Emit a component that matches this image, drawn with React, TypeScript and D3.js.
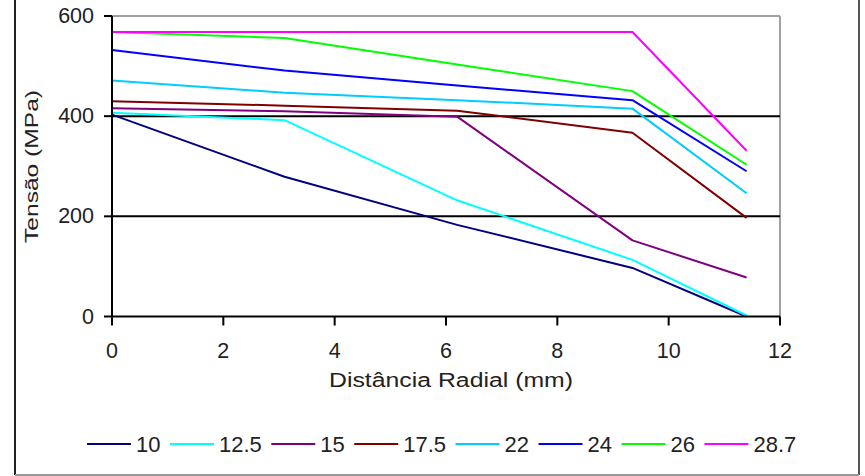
import React from "react";
import * as d3 from "d3";

const seriesNames = ["10", "12.5", "15", "17.5", "22", "24", "26", "28.7"];
const seriesColors = ["#000080", "#00FFFF", "#800080", "#800000", "#00CCFF", "#0000FF", "#00FF00", "#FF00FF"];
const xValues = [0, 3.1, 6.2, 9.35, 11.4];
const s10 = [403, 279, 183, 97, 0];
const s12_5 = [407, 392, 232, 113, 2];
const s15 = [416, 410, 399, 152, 78];
const s17_5 = [430, 421, 411, 367, 197];
const s22 = [471, 447, 432, 415, 246];
const s24 = [532, 491, 461, 432, 290];
const s26 = [568, 556, 503, 450, 303];
const s28_7 = [568, 568, 568, 568, 331];
const seriesValues = [s10, s12_5, s15, s17_5, s22, s24, s26, s28_7];
const xTicks = [0, 2, 4, 6, 8, 10, 12];
const yTicks = [0, 200, 400, 600];
const xTitle = "Distância Radial (mm)";
const yTitle = "Tensão (MPa)";

const W = 865;
const H = 476;
const FONT = "'Liberation Sans', Arial, sans-serif";

function charW(s: string) {
  let w = 0;
  for (const c of s) w += c === "." ? 0.278 : 0.556;
  return w;
}

export default function App() {
  const x = d3.scaleLinear().domain([0, 12]).range([112, 780]);
  const y = d3.scaleLinear().domain([0, 600]).range([316.5, 16]);
  const line = d3
    .line<number>()
    .x((_, i) => x(xValues[i]))
    .y((v) => y(v));

  const legFont = 22;
  const lineLen = 44;
  let cx = 87;
  const legendItems = seriesNames.map((name, i) => {
    const start = cx;
    cx += lineLen + 5 + charW(name) * legFont + 9.5;
    return { name, color: seriesColors[i], start };
  });

  return (
    <svg
      width={W}
      height={H}
      style={{ position: "absolute", left: 0, top: 0, background: "#fff" }}
      fontFamily={FONT}
    >
      <rect x={0} y={0} width={W} height={H} fill="#fff" />
      {/* outer frame */}
      <line x1={15} y1={0} x2={15} y2={475} stroke="#222" strokeWidth={2} />
      <line x1={859} y1={0} x2={859} y2={475} stroke="#555" strokeWidth={2} />
      <line x1={15} y1={475} x2={859} y2={475} stroke="#999" strokeWidth={2} />

      {/* plot border (top/right) */}
      <line x1={x(0)} y1={y(600)} x2={x(12)} y2={y(600)} stroke="#a0a0a0" strokeWidth={2} />
      <line x1={x(12)} y1={y(600)} x2={x(12)} y2={y(0)} stroke="#a0a0a0" strokeWidth={2} />

      {/* gridlines */}
      {yTicks
        .filter((t) => t > 0 && t < 600)
        .map((t) => (
          <line key={"g" + t} x1={x(0)} x2={x(12)} y1={y(t)} y2={y(t)} stroke="#000" strokeWidth={2} />
        ))}

      {/* series */}
      {seriesValues.map((vals, i) => (
        <path
          key={"s" + i}
          d={line(vals) || ""}
          fill="none"
          stroke={seriesColors[i]}
          strokeWidth={2}
          strokeLinejoin="round"
        />
      ))}

      {/* axes */}
      <line x1={x(0)} y1={y(600)} x2={x(0)} y2={y(0)} stroke="#000" strokeWidth={2} />
      <line x1={x(0)} y1={y(0)} x2={x(12)} y2={y(0)} stroke="#000" strokeWidth={2} />
      {yTicks.map((t) => (
        <g key={"yt" + t}>
          <line x1={x(0) - 8} x2={x(0)} y1={y(t)} y2={y(t)} stroke="#000" strokeWidth={2} />
          <text x={94} y={y(t) + 7} textAnchor="end" fontSize={21.5} fill="#222">
            {t}
          </text>
        </g>
      ))}
      {xTicks.map((t) => (
        <g key={"xt" + t}>
          <line x1={x(t)} x2={x(t)} y1={y(0)} y2={y(0) + 9} stroke="#000" strokeWidth={2} />
          <text x={x(t)} y={358} textAnchor="middle" fontSize={21.5} fill="#222">
            {t}
          </text>
        </g>
      ))}

      {/* titles */}
      <text
        x={451}
        y={386.5}
        textAnchor="middle"
        fontSize={19.5}
        fill="#222"
        textLength={244}
        lengthAdjust="spacingAndGlyphs"
      >
        {xTitle}
      </text>
      <text
        transform={`translate(37.5,166.5) rotate(-90)`}
        textAnchor="middle"
        fontSize={19}
        fill="#222"
        textLength={153}
        lengthAdjust="spacingAndGlyphs"
      >
        {yTitle}
      </text>

      {/* legend */}
      {legendItems.map((it) => (
        <g key={"l" + it.name}>
          <line x1={it.start} x2={it.start + lineLen} y1={444} y2={444} stroke={it.color} strokeWidth={2} />
          <text x={it.start + lineLen + 5} y={451.5} fontSize={legFont} fill="#222">
            {it.name}
          </text>
        </g>
      ))}
    </svg>
  );
}
